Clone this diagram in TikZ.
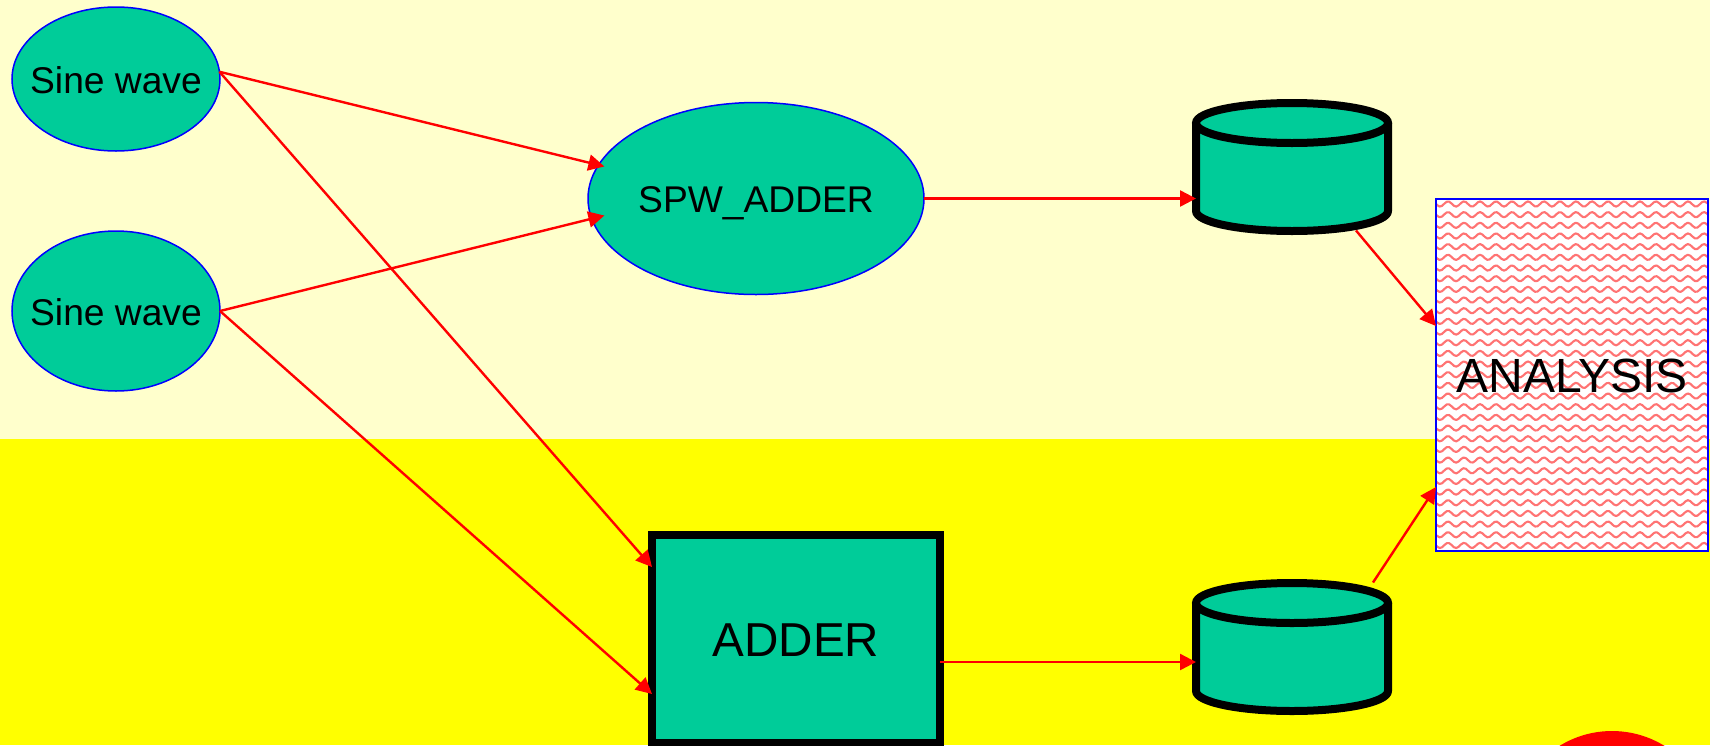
\documentclass[tikz,border=0pt]{standalone}
\usepackage{fontspec}
\setmainfont{Liberation Sans}
\usetikzlibrary{arrows.meta,shapes.geometric,calc}
\definecolor{teal1}{HTML}{00CC99}
\definecolor{palebg}{HTML}{FFFFCC}
\definecolor{yellowbg}{HTML}{FFFF00}
\newcommand\midtext[2]{{\fontsize{#1}{#1}\selectfont\makebox[0pt]{\raisebox{-.358em}[0pt][0pt]{#2}}}}
\newcommand\drumshape[2]{%
  \fill[teal1] (#1-96,#2-44) arc[start angle=180,end angle=0,x radius=96pt,y radius=20pt]
    -- (#1+96,#2+44) arc[start angle=0,end angle=-180,x radius=96pt,y radius=20pt] -- cycle;
  \draw[line width=8pt,line join=round] (#1-96,#2-44) -- (#1-96,#2+44)
    arc[start angle=180,end angle=360,x radius=96pt,y radius=20pt] -- (#1+96,#2-44);
  \draw[line width=8pt] (#1,#2-44) ellipse[x radius=96pt,y radius=20pt];
}
\tikzset{
  x=1pt,y=-1pt,
  softblock/.style={ellipse,draw=blue,line width=1.5pt,fill=teal1,inner sep=0pt,outer sep=0pt},
  heavybox/.style={rectangle,draw=black,line width=8pt,fill=teal1,inner sep=0pt,outer sep=0pt},
  drumanchor/.style={rectangle,inner sep=0pt,outer sep=0pt,minimum width=192pt,minimum height=127pt},
  flow/.style={draw=red,line width=2.4pt,-{Triangle[length=16pt,width=16pt]}},
  wavy/.style={draw=red!55,line width=2.1pt,line join=round}
}
\begin{document}
\begin{tikzpicture}
\useasboundingbox (0,0) rectangle (1710,745);
\clip (0,0) rectangle (1710,745);
\fill[palebg] (0,0) rectangle (1710,439);
\fill[yellowbg] (0,439) rectangle (1710,745);
\fill[red] (1612,831) circle[radius=100pt];

\node[softblock,minimum width=208pt,minimum height=144pt] (s1) at (116,79) {\raisebox{-2pt}{\midtext{37.2}{Sine wave}}};
\node[softblock,minimum width=208pt,minimum height=160pt] (s2) at (116,311) {\raisebox{-2pt}{\midtext{37.2}{Sine wave}}};
\node[softblock,minimum width=336pt,minimum height=192pt] (spw) at (756,198.5) {\raisebox{-1pt}{\midtext{37.2}{SPW\_ADDER}}};
\node[heavybox,minimum width=288pt,minimum height=208pt] (adder) at (796,639) {\raisebox{-1pt}{\midtext{47.6}{ADDER}}};

\node[drumanchor] (c1) at (1292,167) {};
\drumshape{1292}{167}
\node[drumanchor] (c2) at (1292,647) {};
\drumshape{1292}{647}

\fill[white] (1436,199) rectangle (1708,551);
\begin{scope}
  \clip (1436,199) rectangle (1708,551);
  \foreach \k in {0,...,33}
    \draw[wavy] plot[domain=1430:1714,samples=120,smooth] (\x,{204+10.67*\k+2.6*sin((\x-1436)*22.5)});
\end{scope}
\node[rectangle,draw=blue,line width=2pt,inner sep=0pt,outer sep=0pt,minimum width=272pt,minimum height=352pt] (an) at (1572,375) {\raisebox{-1pt}{\midtext{48}{ANALYSIS}}};

\draw[flow,shorten >=-6pt] (s1.4.4) -- (spw.168.3);
\draw[flow] (s1.4.4) -- ($(adder.west)+(0,-72)$);
\draw[flow,shorten >=-13pt] (s2.0) -- (spw.187);
\draw[flow] (s2.0) -- ($(adder.west)+(0,55)$);
\draw[flow] (spw.0) -- ($(c1.west)+(0,31.5)$);
\draw[flow] ($(adder.east)+(0,23)$) -- ($(c2.west)+(0,15)$);
\draw[flow] ($(c1.south)+(64,0)$) -- ($(an.west)+(0,-49)$);
\draw[flow] ($(c2.north)+(81,-1)$) -- ($(an.west)+(0,112)$);
\end{tikzpicture}
\end{document}
